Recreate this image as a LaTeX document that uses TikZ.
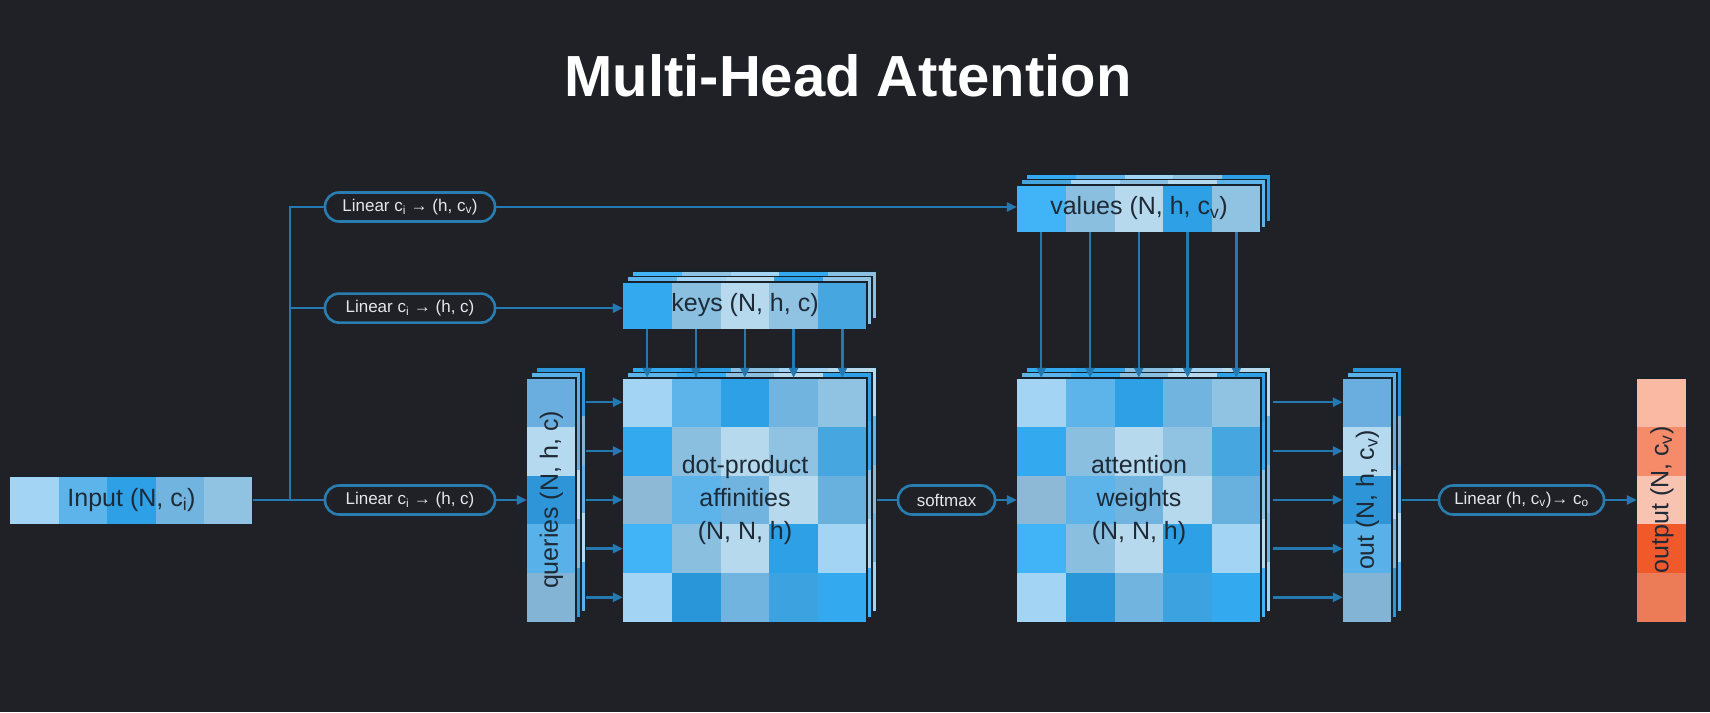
\documentclass[tikz,border=0pt]{standalone}
\usepackage{fontspec}
\setmainfont{Liberation Sans}
\usetikzlibrary{arrows.meta,positioning,calc}

\definecolor{bgc}{HTML}{202127}
\definecolor{linec}{HTML}{2479B0}
\definecolor{pillc}{HTML}{2A7DB0}
\definecolor{txtc}{HTML}{1E2A36}
\definecolor{pilltxt}{HTML}{E4E6E8}
\definecolor{edgec}{HTML}{18222C}
\definecolor{mA}{HTML}{A4D4F3}
\definecolor{mB}{HTML}{5DB4EA}
\definecolor{mC}{HTML}{2DA0E6}
\definecolor{mD}{HTML}{71B4E0}
\definecolor{mE}{HTML}{90C2E2}
\definecolor{mF}{HTML}{33A9EF}
\definecolor{mG}{HTML}{8BBFE0}
\definecolor{mH}{HTML}{B6D9EE}
\definecolor{mI}{HTML}{8DB9D6}
\definecolor{mJ}{HTML}{2A96DA}
\definecolor{mK}{HTML}{46A6E0}
\definecolor{mL}{HTML}{68B0DE}
\definecolor{mM}{HTML}{40B4F6}
\definecolor{mN}{HTML}{3DA2E0}
\definecolor{qA}{HTML}{6AAEE0}
\definecolor{qB}{HTML}{B5D9EF}
\definecolor{qC}{HTML}{2E96D8}
\definecolor{qD}{HTML}{58B2E9}
\definecolor{qE}{HTML}{83B4D6}
\definecolor{oA}{HTML}{FAB9A2}
\definecolor{oB}{HTML}{F58B69}
\definecolor{oC}{HTML}{F8C4B1}
\definecolor{oD}{HTML}{F05A2B}
\definecolor{oE}{HTML}{EC7B58}

\newcommand{\gridF}{mA,mB,mC,mD,mE,mF,mG,mH,mE,mK,mI,mB,mD,mH,mL,mM,mG,mH,mC,mA,mA,mJ,mD,mN,mF}
\newcommand{\gridM}{mB,mF,mG,mH,mC,mE,mK,mA,mD,mF,mD,mH,mI,mB,mE,mG,mA,mC,mK,mH,mF,mD,mB,mA,mM}
\newcommand{\gridB}{mF,mC,mG,mA,mH,mK,mA,mE,mF,mB,mB,mE,mL,mA,mI,mC,mH,mB,mG,mD,mM,mE,mK,mH,mA}
\newcommand{\keysF}{mF,mG,mH,mE,mK}
\newcommand{\keysM}{mB,mA,mH,mC,mE}
\newcommand{\keysB}{mM,mE,mA,mF,mG}
\newcommand{\valsF}{mM,mG,mH,mC,mE}
\newcommand{\valsM}{mK,mA,mG,mH,mB}
\newcommand{\valsB}{mF,mB,mA,mE,mC}
\newcommand{\colF}{qA,qB,qC,qD,qE}
\newcommand{\colM}{qD,qA,qB,qE,qC}
\newcommand{\colB}{qC,qE,qA,qB,qD}
\newcommand{\inrow}{mA,mB,mC,mD,mE}
\newcommand{\outcol}{oA,oB,oC,oD,oE}

% x y cols cellw cellh W H colours
\newcommand{\celltile}[8]{%
  \foreach \cc [count=\k from 0] in #8 {
    \pgfmathtruncatemacro{\tcol}{mod(\k,#3)}
    \pgfmathtruncatemacro{\trow}{floor(\k/#3)}
    \fill[\cc] ({#1+\tcol*#4},{#2+\trow*#5}) rectangle ++(#4,#5);
  }
  \draw[edgec, line width=1.5] (#1,#2) -- ++(#6,0) -- ++(0,#7);
}
% x y cols rows W H back mid front
\newcommand{\layerstack}[9]{%
  \pgfmathsetmacro{\cellw}{#5/#3}
  \pgfmathsetmacro{\cellh}{#6/#4}
  \celltile{#1+10}{#2-11}{#3}{\cellw}{\cellh}{#5}{#6}{#7}
  \celltile{#1+5}{#2-5.5}{#3}{\cellw}{\cellh}{#5}{#6}{#8}
  \celltile{#1}{#2}{#3}{\cellw}{\cellh}{#5}{#6}{#9}
}

\begin{document}
\begin{tikzpicture}[x=1pt, y=-1pt,
    conn/.style={draw=linec, line width=2.4},
    arr/.style={conn, -{Triangle[length=10pt, width=9pt]}},
    pill/.style={draw=pillc, line width=2.6, fill=bgc, rounded corners=14pt, minimum height=29, inner sep=0, text=pilltxt, font=\fontsize{17}{20}\selectfont},
    lbl/.style={inner sep=0, text=txtc, font=\fontsize{25}{33}\selectfont, align=center},
    title/.style={text=white, font=\bfseries\fontsize{58}{60}\selectfont}
]
\fill[bgc] (0,0) rectangle (1710,712);
\useasboundingbox (0,0) rectangle (1710,712);

\node[title, anchor=base] (ttl) at (848,96) {Multi-Head Attention};

\celltile{10}{476}{5}{48.6}{48}{243}{48}{\inrow}
\celltile{1637}{378}{1}{50}{48.8}{50}{244}{\outcol}
\layerstack{623}{282}{5}{1}{244}{47}{\keysB}{\keysM}{\keysF}
\layerstack{1017}{185}{5}{1}{244}{47}{\valsB}{\valsM}{\valsF}
\layerstack{527}{378}{1}{5}{49}{244}{\colB}{\colM}{\colF}
\layerstack{623}{378}{5}{5}{244}{244}{\gridB}{\gridM}{\gridF}
\layerstack{1017}{378}{5}{5}{244}{244}{\gridB}{\gridM}{\gridF}
\layerstack{1343}{378}{1}{5}{49}{244}{\colB}{\colM}{\colF}

\node[lbl, minimum width=243, minimum height=48] (input) at (131.5,500) {Input (N, c\textsubscript{i})};
\node[lbl, minimum width=244, minimum height=47] (keys) at (745,305.5) {keys (N, h, c)};
\node[lbl, minimum width=244, minimum height=47] (vals) at (1139,208.5) {values (N, h, c\textsubscript{v})};
\node[lbl, minimum width=49, minimum height=244] (qrs) at (551.5,500) {\rotatebox{90}{queries (N, h, c)}};
\node[lbl, minimum width=244, minimum height=244] (aff) at (745,500) {dot-product\\affinities\\(N, N, h)};
\node[lbl, minimum width=244, minimum height=244] (att) at (1139,500) {attention\\weights\\(N, N, h)};
\node[lbl, minimum width=49, minimum height=244] (outb) at (1367.5,500) {\rotatebox{90}{out (N, h, c\textsubscript{v})}};
\node[lbl, minimum width=50, minimum height=244] (outp) at (1662,500) {\rotatebox{90}{output (N, c\textsubscript{v})}};

\node[pill, minimum width=170] (linv) at (410,207) {Linear c\textsubscript{i} → (h, c\textsubscript{v})};
\node[pill, minimum width=170, below=69.5pt of linv] (link) {Linear c\textsubscript{i} → (h, c)};
\node[pill, minimum width=170] (linq) at (410,500) {Linear c\textsubscript{i} → (h, c)};
\node[pill, minimum width=97] (soft) at (946.5,500) {softmax};
\node[pill, minimum width=165] (lino) at (1521.5,500) {Linear (h, c\textsubscript{v})→ c\textsubscript{o}};

\coordinate (split) at (290,500);
\draw[conn] (input.east) -- (linq.west);
\draw[conn] (split) |- (linv.west);
\draw[conn] (split) |- (link.west);
\draw[arr] (linv.east) -- (linv.east -| vals.west);
\draw[arr] (link.east) -- (link.east -| keys.west);
\draw[arr] (linq.east) -- (qrs.west);
\foreach \i in {0,...,4} {
  \draw[arr] ($(keys.south west)+(24.4+48.8*\i,0)$) -- ($(aff.north west)+(24.4+48.8*\i,0)$);
  \draw[arr] ($(vals.south west)+(24.4+48.8*\i,0)$) -- ($(att.north west)+(24.4+48.8*\i,0)$);
  \draw[arr] ($(qrs.north east)+(10,24.4+48.8*\i)$) -- ($(aff.north west)+(0,24.4+48.8*\i)$);
  \draw[arr] ($(att.north east)+(12,24.4+48.8*\i)$) -- ($(outb.north west)+(0,24.4+48.8*\i)$);
}
\draw[conn] ([xshift=10pt]aff.east) -- (soft.west);
\draw[arr] (soft.east) -- (att.west);
\draw[conn] ([xshift=10pt]outb.east) -- (lino.west);
\draw[arr] (lino.east) -- (outp.west);
\end{tikzpicture}
\end{document}
